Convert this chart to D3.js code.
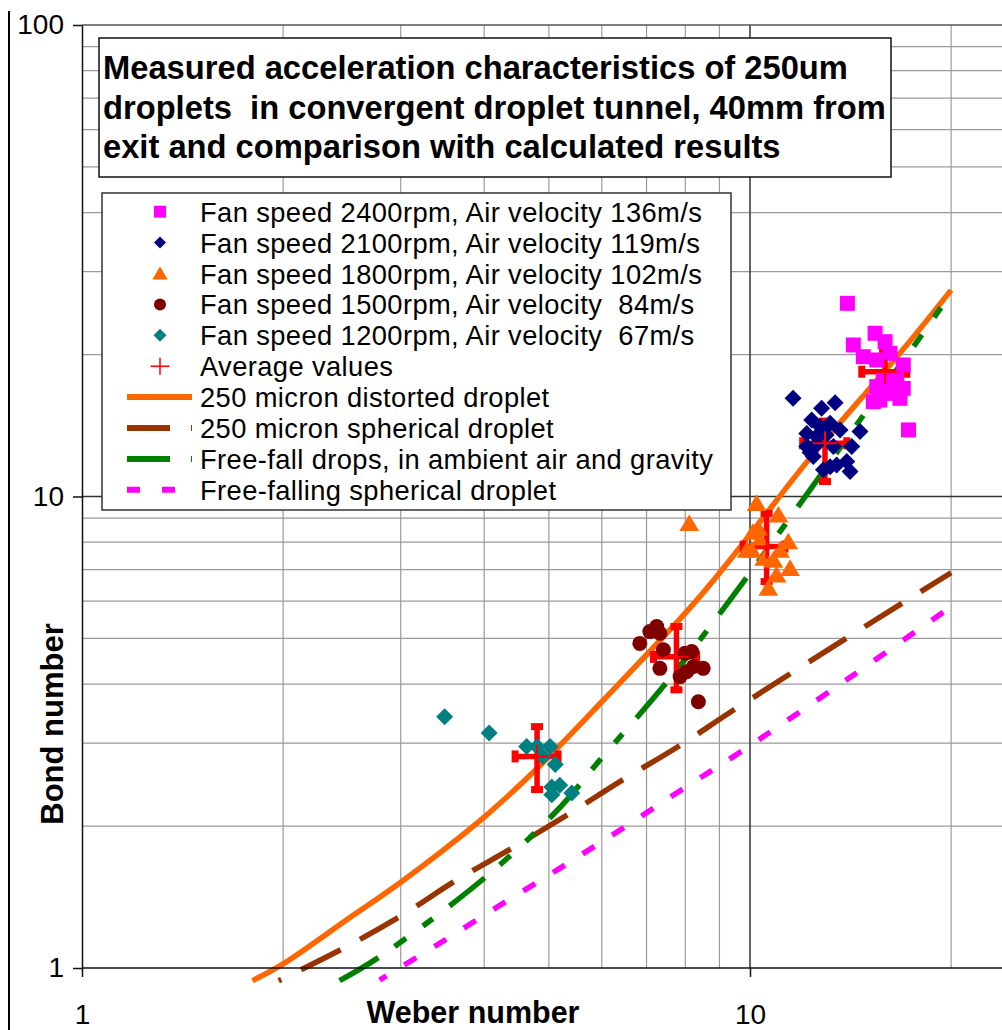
<!DOCTYPE html>
<html>
<head>
<meta charset="utf-8">
<script src="https://cdn.jsdelivr.net/npm/d3@7"></script>
<style>
body { margin: 0; background: #fff; }
svg { display: block; font-family: "Liberation Sans", Arial, sans-serif; }
</style>
</head>
<body>
<svg id="Chart"></svg>
<script>
// measured points (Weber number, Bond number)
let fan2400We = [13.99, 15.39, 14.28, 15.93, 14.78, 16.2, 16.96, 15.48, 15.48, 16.96, 15.65, 16.2, 16.77, 15.3, 17.27, 16.58, 15.84];
let fan2400Bo = [25.69, 22.19, 20.96, 21.3, 19.79, 20.12, 19.01, 19.48, 17.1, 16.96, 16.02, 16.55, 16.15, 15.89, 13.84, 17.67, 17.67];

let fan2100We = [11.6, 12.8, 13.41, 12.37, 13.18, 12.16, 12.58, 13.64, 14.61, 14.2, 12.16, 12.44, 13.33, 13.18, 12.88, 13.96, 14.12, 13.48, 12.73, 12.6, 13.0, 12.3];
let fan2100Bo = [16.15, 15.39, 15.81, 14.53, 14.3, 13.61, 13.4, 13.84, 13.73, 12.76, 12.76, 12.15, 12.76, 11.57, 11.39, 11.86, 11.3, 11.66, 14.07, 12.9, 13.5, 12.4];

let fan1800We = [10.23, 11.03, 8.11, 10.29, 11.41, 10.06, 11.09, 10.84, 11.48, 10.96, 10.65, 9.89, 10.35, 10.5, 10.1];
let fan1800Bo = [9.67, 9.14, 8.77, 8.56, 8.02, 7.7, 7.7, 7.33, 7.04, 6.82, 6.39, 7.7, 8.09, 7.4, 8.4];

let fan1500We = [6.84, 7.08, 7.25, 7.33, 7.42, 7.33, 7.86, 7.99, 8.18, 8.23, 8.51, 8.04, 8.37];
let fan1500Bo = [4.88, 5.17, 5.3, 5.13, 4.73, 4.32, 4.15, 4.65, 4.69, 4.36, 4.32, 4.25, 3.67];

let fan1200We = [3.49, 4.07, 4.63, 4.8, 5.02, 4.9, 5.11, 5.05, 5.19, 5.05, 5.41];
let fan1200Bo = [3.41, 3.15, 2.95, 2.95, 2.95, 2.81, 2.7, 2.42, 2.44, 2.33, 2.35];

// average values with error ranges
let avgWe = [4.8, 7.76, 10.59, 12.95, 15.93];
let avgBo = [2.81, 4.57, 7.83, 12.97, 18.39];
let avgWeLow = [4.45, 7.17, 9.77, 11.99, 14.7];
let avgWeHigh = [5.16, 8.32, 11.28, 13.96, 17.17];
let avgBoLow = [2.39, 3.89, 6.6, 10.76, 16.6];
let avgBoHigh = [3.25, 5.3, 9.21, 14.45, 20.2];

// calculated curves
let distortedWe = [1.8, 2.0, 2.5, 3.0, 4.0, 4.8, 6.0, 8.3, 10, 12.2, 16.8, 20];
let distortedBo = [0.94, 1.02, 1.27, 1.52, 2.09, 2.65, 3.67, 6.0, 8.3, 11.9, 20.2, 27.4];

let sphericalWe = [1.97, 2.46, 2.99, 3.64, 4.4, 5.32, 6.43, 7.81, 9.44, 14.86, 20];
let sphericalBo = [0.94, 1.1, 1.285, 1.537, 1.794, 2.11, 2.5, 2.95, 3.52, 5.3, 6.89];

let freeFallWe = [2.43, 2.8, 4.0, 5.13, 5.96, 7.55, 9.33, 11.6, 15.1, 17.4, 20];
let freeFallBo = [0.94, 1.06, 1.55, 2.15, 2.76, 4.08, 6.03, 9.2, 15.5, 20.4, 27.0];

let freeSphWe = [2.79, 3.43, 4.23, 5.19, 6.39, 7.86, 9.61, 14, 20];
let freeSphBo = [0.943, 1.128, 1.36, 1.627, 1.962, 2.377, 2.854, 4.1, 5.84];

let xTicks = [1, 10];
let yTicks = [1, 10, 100];
let xGrid = [2, 3, 4, 5, 6, 7, 8, 9, 20];
let yGrid = [2, 3, 4, 5, 6, 7, 8, 9, 20, 30, 40, 50, 60, 70, 80, 90];

let titleLines = [
    "Measured acceleration characteristics of 250um",
    "droplets  in convergent droplet tunnel, 40mm from",
    "exit and comparison with calculated results"
];

let legendLabels = [
    "Fan speed 2400rpm, Air velocity 136m/s",
    "Fan speed 2100rpm, Air velocity 119m/s",
    "Fan speed 1800rpm, Air velocity 102m/s",
    "Fan speed 1500rpm, Air velocity  84m/s",
    "Fan speed 1200rpm, Air velocity  67m/s",
    "Average values",
    "250 micron distorted droplet",
    "250 micron spherical droplet",
    "Free-fall drops, in ambient air and gravity",
    "Free-falling spherical droplet"
];

function zip(a, b) {
    return a.map((v, i) => [v, b[i]]);
}

function getConfig() {
    let width = 1002;
    let height = 1030;
    let left = 82, top = 25, bottom = 968;
    let container = d3.select("#Chart")
        .attr("width", width)
        .attr("height", height);
    return { width, height, left, top, bottom, container };
}

function getScales(config) {
    let xMax = 24;
    let xScale = d3.scaleLog()
        .domain([1, xMax])
        .range([config.left, config.left + 668 * Math.log10(xMax)]);
    let yScale = d3.scaleLog()
        .domain([1, 100])
        .range([config.bottom, config.top]);
    return { xScale, yScale };
}

// marker shapes
function markerPath(type, s) {
    if (type === "square") return `M${-s},${-s}H${s}V${s}H${-s}Z`;
    if (type === "diamond") return `M0,${-s}L${s},0L0,${s}L${-s},0Z`;
    if (type === "triangle") return `M0,${-s}L${s * 1.1},${s * 0.85}L${-s * 1.1},${s * 0.85}Z`;
    if (type === "circle") return `M${-s},0A${s},${s} 0 1,0 ${s},0A${s},${s} 0 1,0 ${-s},0Z`;
    return "";
}

function drawGrid(scales, config) {
    let { xScale, yScale } = scales;
    let { container, left, top, bottom, width } = config;
    let g = container.append("g");

    g.selectAll(".vgrid").data(xGrid).enter().append("line")
        .attr("x1", d => xScale(d)).attr("x2", d => xScale(d))
        .attr("y1", top).attr("y2", bottom)
        .attr("stroke", "#9a9a9a").attr("stroke-width", 1.2);

    g.selectAll(".hgrid").data(yGrid).enter().append("line")
        .attr("x1", left).attr("x2", width)
        .attr("y1", d => yScale(d)).attr("y2", d => yScale(d))
        .attr("stroke", "#9a9a9a").attr("stroke-width", 1.2);

    // major lines
    g.append("line")
        .attr("x1", xScale(10)).attr("x2", xScale(10))
        .attr("y1", top).attr("y2", bottom)
        .attr("stroke", "#333").attr("stroke-width", 1.5);
    g.append("line")
        .attr("x1", left).attr("x2", width)
        .attr("y1", yScale(10)).attr("y2", yScale(10))
        .attr("stroke", "#333").attr("stroke-width", 1.5);
    g.append("line")
        .attr("x1", left).attr("x2", width)
        .attr("y1", yScale(100)).attr("y2", yScale(100))
        .attr("stroke", "#555").attr("stroke-width", 1.5);
}

function drawAxes(scales, config) {
    let { xScale, yScale } = scales;
    let { container, left, bottom, width } = config;

    let axisY = d3.axisLeft(yScale)
        .tickValues(yTicks)
        .tickFormat(d3.format("d"))
        .tickSize(9)
        .tickSizeOuter(0)
        .tickPadding(9);
    let gy = container.append("g")
        .attr("transform", `translate(${left},0)`)
        .call(axisY);

    let axisX = d3.axisBottom(xScale)
        .tickValues(xTicks)
        .tickFormat(d3.format("d"))
        .tickSize(9)
        .tickSizeOuter(0);
    let gx = container.append("g")
        .attr("transform", `translate(0,${bottom})`)
        .call(axisX);
    gx.select(".domain").attr("d", `M${left},0H${width}`);

    [gx, gy].forEach(g => {
        g.select(".domain").attr("stroke", "#111").attr("stroke-width", 1.5);
        g.selectAll(".tick line").attr("stroke", "#111").attr("stroke-width", 1.5);
        g.selectAll(".tick text")
            .attr("fill", "#000")
            .style("font-family", "'Liberation Sans', Arial, sans-serif")
            .style("font-size", "28px");
    });
    gx.selectAll(".tick text").attr("y", 56).attr("dy", 0);

    container.append("text")
        .attr("x", 473).attr("y", 1023)
        .attr("text-anchor", "middle")
        .style("font-size", "30.5px").style("font-weight", "bold")
        .text("Weber number");

    container.append("text")
        .attr("transform", "translate(63,724) rotate(-90)")
        .attr("text-anchor", "middle")
        .style("font-size", "31px").style("font-weight", "bold")
        .text("Bond number");

    // outer frame line on the left
    container.append("line")
        .attr("x1", 9).attr("x2", 9).attr("y1", 11).attr("y2", 1030)
        .attr("stroke", "#000").attr("stroke-width", 2);
}

let curveSeries = [
    { we: distortedWe, bo: distortedBo, color: "#FF6600", dash: null, offset: 0 },
    { we: sphericalWe, bo: sphericalBo, color: "#993300", dash: "44,22", offset: 41 },
    { we: freeFallWe, bo: freeFallBo, color: "#008000", dash: "45,20,14,21,12,21", offset: 0 },
    { we: freeSphWe, bo: freeSphBo, color: "#FF00FF", dash: "14,21", offset: 6 }
];

function drawCurves(scales, config) {
    let { xScale, yScale } = scales;
    let line = d3.line()
        .x(d => xScale(d[0]))
        .y(d => yScale(d[1]))
        .curve(d3.curveCatmullRom);

    config.container.append("g").selectAll("path")
        .data(curveSeries)
        .enter().append("path")
        .attr("d", d => line(zip(d.we, d.bo)))
        .attr("fill", "none")
        .attr("stroke", d => d.color)
        .attr("stroke-width", 5.5)
        .attr("stroke-dasharray", d => d.dash)
        .attr("stroke-dashoffset", d => d.offset);
}

let markerSeries = [
    { we: fan2400We, bo: fan2400Bo, type: "square", size: 7.5, color: "#FF00FF" },
    { we: fan2100We, bo: fan2100Bo, type: "diamond", size: 8.5, color: "#000080" },
    { we: fan1800We, bo: fan1800Bo, type: "triangle", size: 9, color: "#FF6600" },
    { we: fan1500We, bo: fan1500Bo, type: "circle", size: 7.5, color: "#800000" },
    { we: fan1200We, bo: fan1200Bo, type: "diamond", size: 8.5, color: "#008080" }
];

function drawErrorBars(scales, config) {
    let { xScale, yScale } = scales;
    let g = config.container.append("g").attr("stroke", "#FF0000");
    let avg = avgWe.map((w, i) => ({
        we: w, bo: avgBo[i],
        wl: avgWeLow[i], wh: avgWeHigh[i],
        bl: avgBoLow[i], bh: avgBoHigh[i]
    }));

    avg.forEach(d => {
        let cx = xScale(d.we), cy = yScale(d.bo);
        let x1 = xScale(d.wl), x2 = xScale(d.wh);
        let y1 = yScale(d.bh), y2 = yScale(d.bl);
        g.append("line").attr("x1", cx).attr("x2", cx).attr("y1", y1).attr("y2", y2).attr("stroke-width", 5.5);
        g.append("line").attr("x1", x1).attr("x2", x2).attr("y1", cy).attr("y2", cy).attr("stroke-width", 5.5);
        [y1, y2].forEach(yy => g.append("line")
            .attr("x1", cx - 6).attr("x2", cx + 6).attr("y1", yy).attr("y2", yy).attr("stroke-width", 7));
        [x1, x2].forEach(xx => g.append("line")
            .attr("x1", xx).attr("x2", xx).attr("y1", cy - 6).attr("y2", cy + 6).attr("stroke-width", 7));
    });
}

function drawMarkers(scales, config) {
    let { xScale, yScale } = scales;
    let g = config.container.append("g");
    markerSeries.forEach(s => {
        g.append("g").selectAll("path")
            .data(zip(s.we, s.bo))
            .enter().append("path")
            .attr("transform", d => `translate(${xScale(d[0])},${yScale(d[1])})`)
            .attr("d", markerPath(s.type, s.size))
            .attr("fill", s.color);
    });
}

function drawAverageCrosses(scales, config) {
    let { xScale, yScale } = scales;
    config.container.append("g").selectAll("path")
        .data(zip(avgWe, avgBo))
        .enter().append("path")
        .attr("transform", d => `translate(${xScale(d[0])},${yScale(d[1])})`)
        .attr("d", "M-12,0H12M0,-12V12")
        .attr("stroke", "#FF0000")
        .attr("stroke-width", 2);
}

function drawTitle(config) {
    let g = config.container.append("g");
    g.append("rect")
        .attr("x", 99).attr("y", 38).attr("width", 792).attr("height", 139)
        .attr("fill", "#fff").attr("stroke", "#111").attr("stroke-width", 1.5);
    g.selectAll("text").data(titleLines).enter().append("text")
        .attr("x", 103)
        .attr("y", (d, i) => 79 + i * 39.5)
        .attr("xml:space", "preserve")
        .style("white-space", "pre")
        .style("font-size", "32.7px")
        .style("font-weight", "bold")
        .text(d => d);
}

function drawLegend(config) {
    let g = config.container.append("g");
    g.append("rect")
        .attr("x", 102).attr("y", 193).attr("width", 629).attr("height", 317)
        .attr("fill", "#fff").attr("stroke", "#333").attr("stroke-width", 1.5);

    let rows = legendLabels.map((label, i) => ({ label, i, baseline: 221.7 + i * 30.9 }));

    g.selectAll(".label").data(rows).enter().append("text")
        .attr("x", 200)
        .attr("y", d => d.baseline)
        .attr("xml:space", "preserve")
        .style("white-space", "pre")
        .style("font-size", "27.3px")
        .style("letter-spacing", "0.4px")
        .text(d => d.label);

    let legendMarkers = [
        { type: "square", size: 6, color: "#FF00FF" },
        { type: "diamond", size: 6, color: "#000080" },
        { type: "triangle", size: 7, color: "#FF6600" },
        { type: "circle", size: 6, color: "#800000" },
        { type: "diamond", size: 6.5, color: "#008080" }
    ];
    legendMarkers.forEach((m, i) => {
        g.append("path")
            .attr("transform", `translate(160,${rows[i].baseline - 10})`)
            .attr("d", markerPath(m.type, m.size))
            .attr("fill", m.color);
    });

    g.append("path")
        .attr("transform", `translate(160,${rows[5].baseline - 10})`)
        .attr("d", "M-9.5,0H9.5M0,-8.5V8.5")
        .attr("stroke", "#FF0000").attr("stroke-width", 1.5);

    curveSeries.forEach((s, i) => {
        let yy = rows[6 + i].baseline - 10;
        g.append("line")
            .attr("x1", 127).attr("x2", 192)
            .attr("y1", yy).attr("y2", yy)
            .attr("stroke", s.color)
            .attr("stroke-width", 6)
            .attr("stroke-dasharray", s.dash ? (i === 3 ? "13,22" : "43,21") : null);
    });
}

function showChart() {
    let config = getConfig();
    let scales = getScales(config);
    drawGrid(scales, config);
    drawCurves(scales, config);
    drawErrorBars(scales, config);
    drawMarkers(scales, config);
    drawAverageCrosses(scales, config);
    drawTitle(config);
    drawLegend(config);
    drawAxes(scales, config);
}

showChart();
</script>
</body>
</html>
